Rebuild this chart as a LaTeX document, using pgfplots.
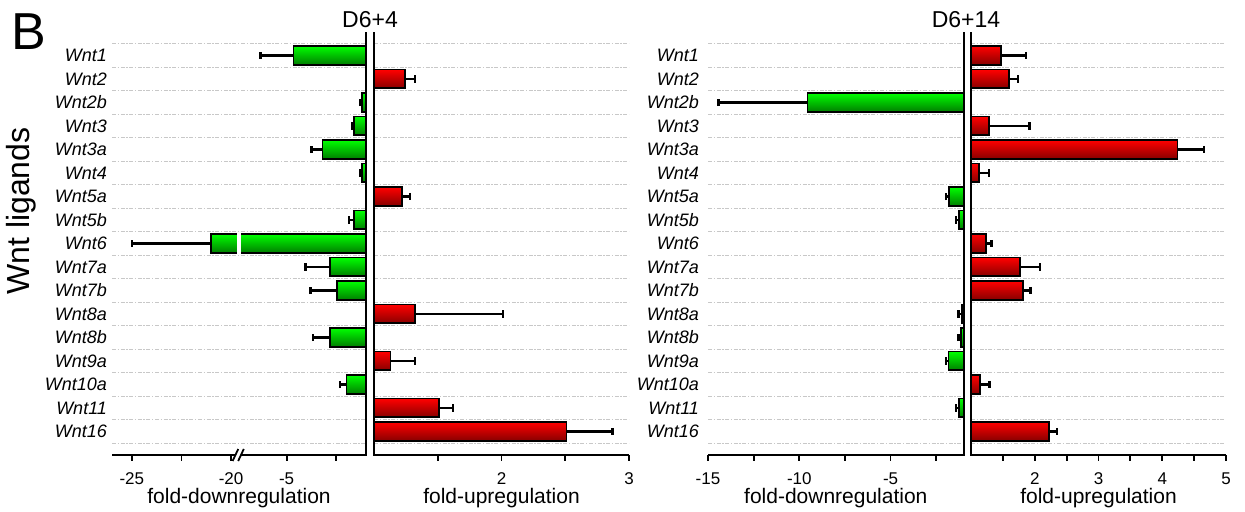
\documentclass[border=0pt]{standalone}
\usepackage{pgfplots}
\pgfplotsset{compat=1.18}
\usepackage{fontspec}
\setmainfont{Liberation Sans}
\definecolor{gtop}{RGB}{0,255,0}
\definecolor{gbot}{RGB}{0,125,0}
\definecolor{rtop}{RGB}{255,0,0}
\definecolor{rbot}{RGB}{135,0,0}
\definecolor{gridc}{RGB}{200,200,200}

\pgfplotsset{
  panel/.style={
    scale only axis, height=211.5pt, anchor=south west,
    ymin=0, ymax=18,
    ytick={1,...,17},
    minor ytick={0.5,1.5,...,17.5},
    yminorgrids=true,
    minor y grid style={gridc, line width=0.7pt, dash pattern=on 2pt off 0.8pt on 0.7pt off 0.8pt},
    ytick style={draw=none},
    axis line style={draw=none},
    xtick pos=left, tick align=outside,
    major tick length=3pt, minor tick length=3pt,
    xtick style={black, line width=0.9pt},
    clip mode=individual,
    tick label style={font=\fontsize{8.5}{9.5}\selectfont},
    xticklabel style={yshift=-2.5pt},
    yticklabel style={font=\fontsize{9}{10}\selectfont\itshape},
    bar width=0.8,
  },
  downbar/.style={xbar, draw=black, line width=0.9pt, top color=gtop, bottom color=gbot,
    error bars/.cd, x dir=minus, x explicit,
    error bar style={line width=1.2pt, black},
    error mark options={rotate=90, mark size=1.8pt, line width=1.2pt, black}},
  upbar/.style={xbar, draw=black, line width=0.9pt, top color=rtop, bottom color=rbot,
    error bars/.cd, x dir=plus, x explicit,
    error bar style={line width=1.2pt, black},
    error mark options={rotate=90, mark size=1.8pt, line width=1.2pt, black}},
}

\begin{document}
\begin{tikzpicture}
\useasboundingbox (0,0) rectangle (622.5pt,256pt);

% ---------- Panel D6+4, downregulation (broken axis) ----------
\begin{axis}[panel, at={(56pt,28.5pt)}, width=127pt,
  x coord trafo/.code={\pgfmathparse{ifthenelse(#1<-15,#1+12.2,#1)}},
  xmin=-26, xmax=-1,
  xtick={-25,-20,-5}, xticklabels={-25,-20,-5},
  minor xtick={-22.5,-2.5},
  yticklabels={Wnt16,Wnt11,Wnt10a,Wnt9a,Wnt8b,Wnt8a,Wnt7b,Wnt7a,Wnt6,Wnt5b,Wnt5a,Wnt4,Wnt3a,Wnt3,Wnt2b,Wnt2,Wnt1},
  yticklabel style={xshift=4pt},
]
\addplot[downbar] coordinates {(-4.65,17) +- (1.67,0)};  % Wnt1
\addplot[downbar] coordinates {(-1.22,15) +- (0.08,0)};  % Wnt2b
\addplot[downbar] coordinates {(-1.61,14) +- (0.11,0)};  % Wnt3
\addplot[downbar] coordinates {(-3.19,13) +- (0.56,0)};  % Wnt3a
\addplot[downbar] coordinates {(-1.22,12) +- (0.08,0)};  % Wnt4
\addplot[downbar] coordinates {(-1.61,10) +- (0.24,0)};  % Wnt5b
\addplot[downbar] coordinates {(-21.0,9) +- (4.0,0)};    % Wnt6
\addplot[downbar] coordinates {(-2.82,8) +- (1.22,0)};   % Wnt7a
\addplot[downbar] coordinates {(-2.45,7) +- (1.35,0)};   % Wnt7b
\addplot[downbar] coordinates {(-2.82,5) +- (0.85,0)};   % Wnt8b
\addplot[downbar] coordinates {(-1.98,3) +- (0.34,0)};   % Wnt10a
\fill[white] (axis cs:-7.48,8.55) rectangle (axis cs:-7.30,9.45);
\draw[line width=1pt] (rel axis cs:0,0) -- (rel axis cs:1,0) -- (rel axis cs:1,1);
\fill[white] ([yshift=-2pt]axis cs:-7.58,0) rectangle ([yshift=2pt]axis cs:-7.30,0);
\draw[line width=0.9pt] ([xshift=-1.4pt,yshift=-3pt]axis cs:-7.58,0) -- ([xshift=1.4pt,yshift=3pt]axis cs:-7.58,0);
\draw[line width=0.9pt] ([xshift=-1.4pt,yshift=-3pt]axis cs:-7.30,0) -- ([xshift=1.4pt,yshift=3pt]axis cs:-7.30,0);
\end{axis}

% ---------- Panel D6+4, upregulation ----------
\begin{axis}[panel, at={(187pt,28.5pt)}, width=127.5pt,
  xmin=1, xmax=3,
  xtick={2,3}, xticklabels={2,3},
  minor xtick={1.5,2.5},
  yticklabels={},
]
\addplot[upbar] coordinates {(1.24,16) +- (0.08,0)};  % Wnt2
\addplot[upbar] coordinates {(1.22,11) +- (0.06,0)};  % Wnt5a
\addplot[upbar] coordinates {(1.32,6) +- (0.69,0)};   % Wnt8a
\addplot[upbar] coordinates {(1.13,4) +- (0.19,0)};   % Wnt9a
\addplot[upbar] coordinates {(1.51,2) +- (0.11,0)};   % Wnt11
\addplot[upbar] coordinates {(2.51,1) +- (0.36,0)};   % Wnt16
\draw[line width=1pt] (rel axis cs:1,0) -- (rel axis cs:0,0) -- (rel axis cs:0,1);
\end{axis}

% ---------- Panel D6+14, downregulation ----------
\begin{axis}[panel, at={(354pt,28.5pt)}, width=127.8pt,
  xmin=-15, xmax=-1,
  xtick={-15,-10,-5}, xticklabels={-15,-10,-5},
  minor xtick={-12.5,-7.5,-2.5},
  yticklabels={Wnt16,Wnt11,Wnt10a,Wnt9a,Wnt8b,Wnt8a,Wnt7b,Wnt7a,Wnt6,Wnt5b,Wnt5a,Wnt4,Wnt3a,Wnt3,Wnt2b,Wnt2,Wnt1},
  yticklabel style={xshift=2pt},
]
\addplot[downbar] coordinates {(-9.55,15) +- (4.87,0)};  % Wnt2b
\addplot[downbar] coordinates {(-1.80,11) +- (0.16,0)};  % Wnt5a
\addplot[downbar] coordinates {(-1.25,10) +- (0.16,0)};  % Wnt5b
\addplot[downbar] coordinates {(-1.08,6) +- (0.20,0)};   % Wnt8a
\addplot[downbar] coordinates {(-1.16,5) +- (0.13,0)};   % Wnt8b
\addplot[downbar] coordinates {(-1.83,4) +- (0.13,0)};   % Wnt9a
\addplot[downbar] coordinates {(-1.25,2) +- (0.16,0)};   % Wnt11
\draw[line width=1pt] (rel axis cs:0,0) -- (rel axis cs:1,0) -- (rel axis cs:1,1);
\end{axis}

% ---------- Panel D6+14, upregulation ----------
\begin{axis}[panel, at={(485.5pt,28.5pt)}, width=127.5pt,
  xmin=1, xmax=5,
  xtick={2,3,4,5}, xticklabels={2,3,4,5},
  minor xtick={1.5,2.5,3.5,4.5},
  yticklabels={},
]
\addplot[upbar] coordinates {(1.47,17) +- (0.39,0)};  % Wnt1
\addplot[upbar] coordinates {(1.59,16) +- (0.15,0)};  % Wnt2
\addplot[upbar] coordinates {(1.28,14) +- (0.64,0)};  % Wnt3
\addplot[upbar] coordinates {(4.24,13) +- (0.41,0)};  % Wnt3a
\addplot[upbar] coordinates {(1.13,12) +- (0.15,0)};  % Wnt4
\addplot[upbar] coordinates {(1.24,9) +- (0.08,0)};   % Wnt6
\addplot[upbar] coordinates {(1.77,8) +- (0.31,0)};   % Wnt7a
\addplot[upbar] coordinates {(1.82,7) +- (0.11,0)};   % Wnt7b
\addplot[upbar] coordinates {(1.14,3) +- (0.15,0)};   % Wnt10a
\addplot[upbar] coordinates {(2.22,1) +- (0.13,0)};   % Wnt16
\draw[line width=1pt] (rel axis cs:1,0) -- (rel axis cs:0,0) -- (rel axis cs:0,1);
\end{axis}

% ---------- texts ----------
\node[font=\fontsize{26}{28}\selectfont] at (14.25pt,240pt) {B};
\node[font=\fontsize{16}{18}\selectfont, rotate=90] at (10.75pt,150.5pt) {Wnt ligands};
\node[font=\fontsize{11.5}{13}\selectfont] at (185pt,246pt) {D6+4};
\node[font=\fontsize{11.5}{13}\selectfont] at (483pt,246pt) {D6+14};
\node[font=\fontsize{10.5}{12}\selectfont] at (119.5pt,7pt) {fold-downregulation};
\node[font=\fontsize{10.5}{12}\selectfont] at (250.75pt,7pt) {fold-upregulation};
\node[font=\fontsize{10.5}{12}\selectfont] at (417.9pt,7pt) {fold-downregulation};
\node[font=\fontsize{10.5}{12}\selectfont] at (549.25pt,7pt) {fold-upregulation};
\end{tikzpicture}
\end{document}
